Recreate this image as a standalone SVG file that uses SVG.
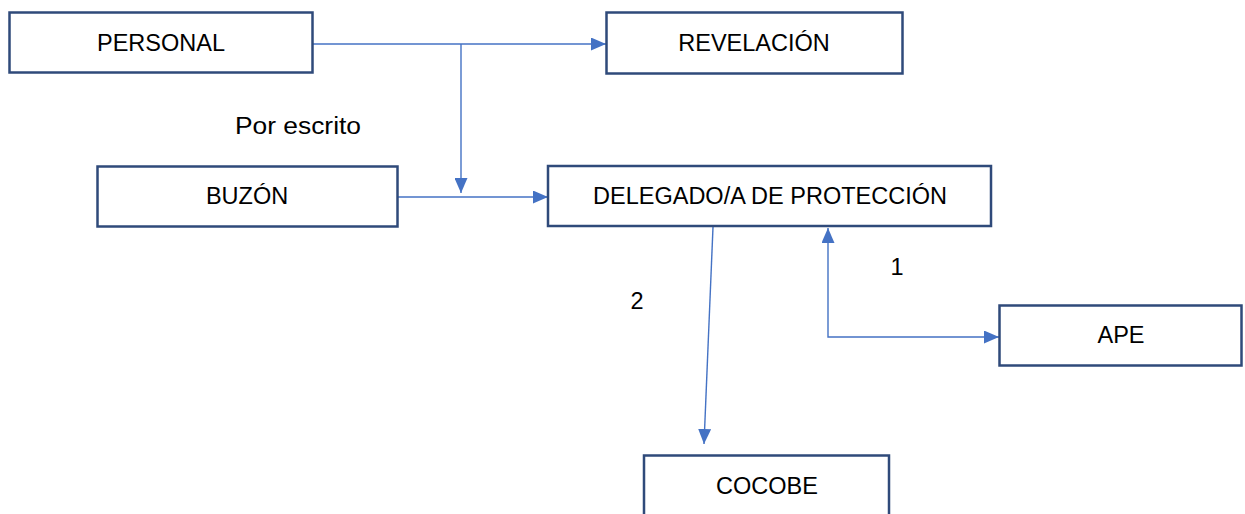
<svg xmlns="http://www.w3.org/2000/svg" width="1245" height="514" viewBox="0 0 1245 514">
<style>
.box{fill:#fff;stroke:#2F4A7A;stroke-width:2.5}
.lbl{font-family:"Liberation Sans",Arial,sans-serif;font-size:23.5px;fill:#000;text-anchor:middle;dominant-baseline:central}
.c{fill:none;stroke:#4472C4;stroke-width:1.4}
</style>
<defs>
<marker id="ah" viewBox="0 0 15 13" refX="15" refY="6.5" markerWidth="15" markerHeight="13" markerUnits="userSpaceOnUse" orient="auto-start-reverse">
<path d="M0,0 L15,6.5 L0,13 Z" fill="#4472C4"/>
</marker>
</defs>
<rect width="1245" height="514" fill="#fff"/>
<g id="connectors">
<path class="c" d="M313,44 H606" marker-end="url(#ah)"/>
<path class="c" d="M461,44 V193" marker-end="url(#ah)"/>
<path class="c" d="M398,197 H548" marker-end="url(#ah)"/>
<path class="c" d="M713,227 L704,444" marker-end="url(#ah)"/>
<path class="c" d="M828,228 V337 H999" marker-start="url(#ah)" marker-end="url(#ah)"/>
</g>
<g id="personal"><rect class="box" x="9.5" y="12.5" width="303" height="60"/><text class="lbl" x="161" y="43">PERSONAL</text></g>
<g id="revelacion"><rect class="box" x="606.5" y="12.5" width="296" height="61"/><text class="lbl" x="754" y="43">REVELACIÓN</text></g>
<g id="buzon"><rect class="box" x="97.5" y="166.5" width="300" height="60"/><text class="lbl" x="247" y="196">BUZÓN</text></g>
<g id="delegado"><rect class="box" x="548" y="166" width="443" height="60"/><text class="lbl" x="770" y="196">DELEGADO/A DE PROTECCIÓN</text></g>
<g id="ape"><rect class="box" x="999.5" y="305.5" width="242" height="60"/><text class="lbl" x="1121" y="335">APE</text></g>
<g id="cocobe"><rect class="box" x="644" y="455.5" width="245" height="70"/><text class="lbl" x="767" y="486">COCOBE</text></g>
<g id="labels">
<text class="lbl" x="298" y="126" textLength="126" lengthAdjust="spacingAndGlyphs">Por escrito</text>
<text class="lbl" x="637" y="301">2</text>
<text class="lbl" x="897" y="267">1</text>
</g>
</svg>
